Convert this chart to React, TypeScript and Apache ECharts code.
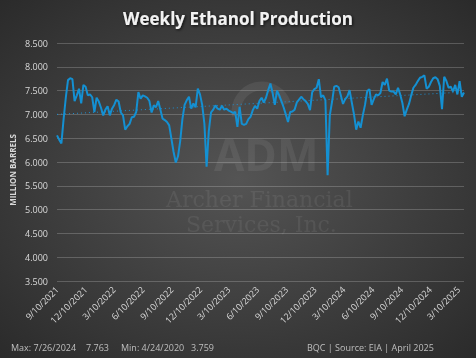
import React, { useEffect, useRef } from "react";
import * as echarts from "echarts";

const startDate = [2021, 9, 10];
const endDate = [2025, 3, 28];

const production = [
  6.56, 6.47, 6.39, 6.9, 7.35, 7.72, 7.76, 7.74, 7.28, 7.4,
  7.54, 7.23, 7.62, 7.58, 7.4, 7.42, 7.36, 7.05, 7.35, 7.27,
  7.14, 6.98, 7.1, 7.17, 6.98, 7.12, 7.2, 7.31, 7.27, 7.04,
  6.98, 6.68, 6.75, 6.8, 6.94, 6.95, 7.05, 7.47, 7.33, 7.4,
  7.38, 7.35, 7.28, 7.04, 7.19, 7.15, 7.28, 7.1, 6.91, 6.88,
  6.84, 6.77, 6.49, 6.21, 5.99, 6.12, 6.44, 6.9, 7.2, 7.3,
  7.37, 7.12, 7.23, 7.15, 7.54, 7.42, 7.2, 6.8, 5.9, 6.65,
  7.04, 7.1, 7.19, 7.12, 7.1, 7.18, 7.1, 7.12, 7.08, 7.06,
  7.03, 7.05, 6.74, 7.16, 6.8, 6.78, 6.8, 6.9, 6.95, 7.09,
  7.18, 7.12, 7.28, 7.35, 7.25, 7.35, 7.51, 7.65, 7.45, 7.2,
  7.5, 7.4, 7.28, 7.15, 7.0, 6.84, 7.05, 7.06, 7.1, 7.25,
  7.31, 7.37, 7.32, 7.28, 7.22, 7.09, 7.47, 7.53, 7.56, 7.74,
  7.36, 7.4, 7.3, 5.72, 6.98, 7.26, 7.58, 7.6, 7.57, 7.4,
  7.22, 7.32, 7.38, 7.51, 7.25, 7.0, 6.68, 6.85, 6.72, 6.98,
  7.2, 7.49, 7.53, 7.2, 7.32, 7.42, 7.4, 7.45, 7.68, 7.62,
  7.75, 7.5, 7.48, 7.48, 7.42, 7.56, 7.42, 7.24, 6.96, 7.1,
  7.22, 7.4, 7.56, 7.62, 7.7, 7.77, 7.79, 7.82, 7.54, 7.58,
  7.68, 7.76, 7.78, 7.74, 7.6, 7.11, 7.79, 7.7, 7.56, 7.58,
  7.48, 7.62, 7.42, 7.7, 7.37, 7.46,
];

const trendValues = [7.0, 7.47];

const xTickLabels = [
  "9/10/2021", "12/10/2021", "3/10/2022", "6/10/2022", "9/10/2022",
  "12/10/2022", "3/10/2023", "6/10/2023", "9/10/2023", "12/10/2023",
  "3/10/2024", "6/10/2024", "9/10/2024", "12/10/2024", "3/10/2025",
];

const footerLeft = ["Max: 7/26/2024", "7.763", "Min: 4/24/2020", "3.759"];
const footerRight = "BQC | Source: EIA | April 2025";

const DAY = 86400000;
const utc = (y: number, m: number, d: number) => Date.UTC(y, m - 1, d);
const parseLabel = (s: string) => {
  const [m, d, y] = s.split("/").map(Number);
  return utc(y, m, d);
};
const fmt = (t: number) => {
  const d = new Date(t);
  return `${d.getUTCMonth() + 1}/${d.getUTCDate()}/${d.getUTCFullYear()}`;
};

export default function App() {
  const ref = useRef<HTMLDivElement>(null);
  useEffect(() => {
    if (!ref.current) return;
    const chart = echarts.init(ref.current, undefined, { renderer: "svg" });
    const t0 = utc(startDate[0], startDate[1], startDate[2]);
    const t1 = utc(endDate[0], endDate[1], endDate[2]);
    const lineData = production.map((v, i) => [t0 + i * 7 * DAY, v]);
    const trendData = [
      [t0, trendValues[0]],
      [t1, trendValues[1]],
    ];
    const tickVals = xTickLabels.map(parseLabel);
    const labelColor = "#d9d9d9";
    const font = "'Open Sans', 'Noto Sans', sans-serif";
    const wm = "rgba(255,255,255,0.07)";
    chart.setOption({
      animation: false,
      backgroundColor: {
        type: "radial",
        x: 0.5,
        y: 0.5,
        r: 0.75,
        colorStops: [
          { offset: 0, color: "#545454" },
          { offset: 1, color: "#282828" },
        ],
      },
      title: {
        text: "Weekly Ethanol Production",
        left: "center",
        top: 5,
        textStyle: {
          color: "#f2f2f2",
          fontSize: 17,
          fontWeight: "bold",
          fontFamily: font,
          textShadowColor: "rgba(0,0,0,0.8)",
          textShadowBlur: 3,
          textShadowOffsetX: 1,
          textShadowOffsetY: 1,
        },
      },
      grid: { left: 57, right: 12, top: 43, bottom: 77 },
      xAxis: {
        type: "value",
        min: t0,
        max: t1,
        splitLine: { show: false },
        axisLine: { show: false },
        axisTick: { show: false },
        axisLabel: {
          customValues: tickVals,
          rotate: 45,
          margin: 7,
          color: labelColor,
          fontSize: 9,
          fontFamily: font,
          showMinLabel: true,
          showMaxLabel: true,
          hideOverlap: false,
          formatter: (v: number) => fmt(v),
        },
      },
      yAxis: {
        type: "value",
        min: 3.5,
        max: 8.5,
        interval: 0.5,
        axisLine: { show: false },
        axisTick: { show: false },
        splitLine: { lineStyle: { color: "rgba(255,255,255,0.2)", width: 1 } },
        axisLabel: {
          color: labelColor,
          fontSize: 9,
          fontFamily: font,
          margin: 9,
          formatter: (v: number) => v.toFixed(3),
        },
      },
      series: [
        {
          type: "line",
          data: trendData,
          showSymbol: false,
          symbol: "none",
          lineStyle: { color: "#1b8fd2", width: 1, type: [1, 3] },
          z: 1,
        },
        {
          type: "line",
          data: lineData,
          showSymbol: false,
          symbol: "none",
          lineStyle: { color: "#1490d2", width: 2 },
          z: 3,
        },
      ],
      graphic: [
        {
          type: "arc",
          shape: { cx: 262, cy: 112, r: 26, startAngle: Math.PI * 0.95, endAngle: Math.PI * 1.9 },
          style: { stroke: wm, lineWidth: 9, fill: null },
          silent: true,
          z: 0,
        },
        {
          type: "text",
          left: 214,
          top: 132,
          style: { text: "ADM", fill: wm, font: "bold 44px 'Open Sans', sans-serif" },
          silent: true,
          z: 0,
        },
        {
          type: "text",
          left: 166,
          top: 188,
          style: { text: "Archer Financial", fill: wm, font: "22px 'DejaVu Serif', serif" },
          silent: true,
          z: 0,
        },
        {
          type: "text",
          left: 186,
          top: 213,
          style: { text: "Services, Inc.", fill: wm, font: "22px 'DejaVu Serif', serif" },
          silent: true,
          z: 0,
        },
        {
          type: "text",
          x: 12,
          y: 170,
          rotation: Math.PI / 2,
          style: {
            text: "MILLION BARRELS",
            fill: labelColor,
            font: `bold 8px ${font}`,
            align: "center",
            verticalAlign: "middle",
          },
          silent: true,
        },
        ...[11, 86, 121, 191].map((x, i) => ({
          type: "text",
          left: x,
          top: 343,
          style: { text: footerLeft[i], fill: "#bfbfbf", font: `9px ${font}` },
          silent: true,
        })),
        {
          type: "text",
          left: 307,
          top: 343,
          style: { text: footerRight, fill: "#bfbfbf", font: `9px ${font}` },
          silent: true,
        },
      ],
    });
    return () => chart.dispose();
  }, []);
  return (
    <div
      ref={ref}
      style={{ position: "fixed", left: 0, top: 0, width: 476, height: 358 }}
    />
  );
}
